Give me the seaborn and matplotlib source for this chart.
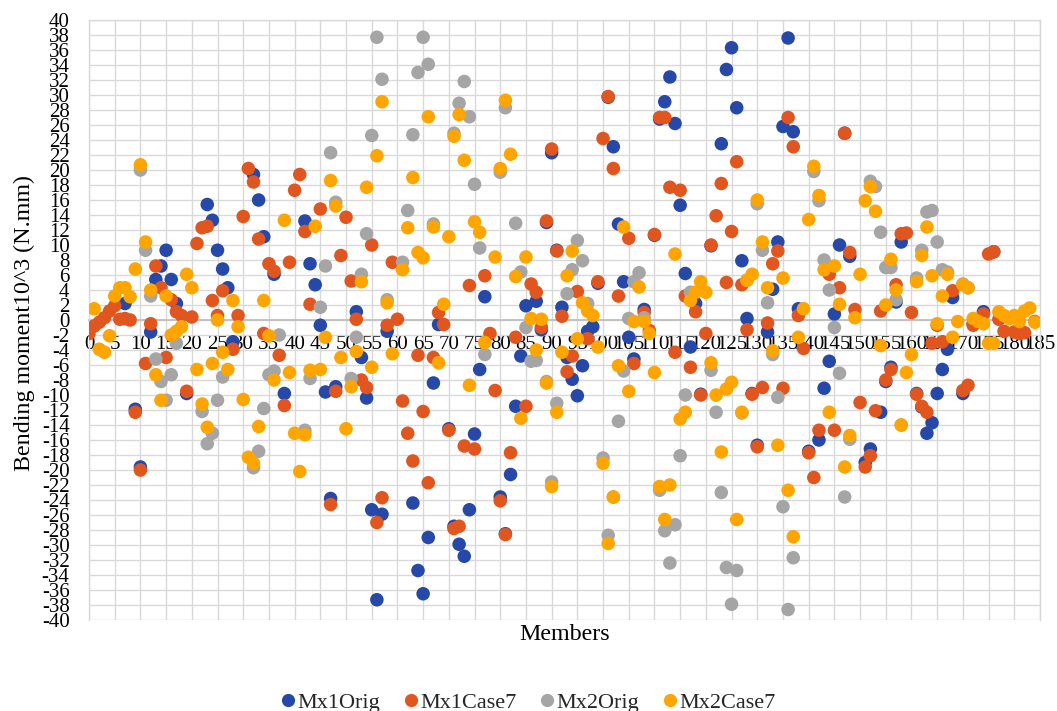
import matplotlib
matplotlib.use("Agg")
import matplotlib.pyplot as plt
from matplotlib.lines import Line2D
import seaborn as sns
import pandas as pd

sns.set_theme(style="white")
plt.rcParams['font.family'] = ['Liberation Serif', 'DejaVu Serif']
plt.rcParams['axes.unicode_minus'] = False

series_names = ["Mx1Orig", "Mx1Case7", "Mx2Orig", "Mx2Case7"]
series_colors = ["#2648A8", "#E1551E", "#A5A5A5", "#FFA500"]

x_ticks = list(range(0, 186, 5))
y_ticks = list(range(-40, 41, 2))

# (member, bending moment)
mx1_orig = [
    (7, 2.2), (9, -11.9), (10, -19.6), (12, -1.6), (13, 5.4), (14, 7.2), (15, 9.3), (16, 5.4), (17, 2.2), (19, -9.8),
    (23, 15.4), (24, 13.3), (25, 9.3), (26, 6.8), (27, 4.3), (28, -2.9), (32, 19.4), (33, 16), (34, 11.1), (36, 6.1),
    (38, -9.8), (42, 13.2), (43, 7.5), (44, 4.7), (45, -0.7), (46, -9.6), (47, -23.8), (48, -8.9), (52, 1.1), (53, -5),
    (54, -10.4), (55, -25.3), (56, -37.3), (57, -25.9), (58, -1.5), (63, -24.4), (64, -33.4), (65, -36.5), (66, -29), (67, -8.4),
    (68, -0.6), (70, -14.5), (71, -27.5), (72, -29.9), (73, -31.5), (74, -25.3), (75, -15.2), (76, -6.6), (77, 3.1), (80, -23.6),
    (81, -28.5), (82, -20.6), (83, -11.5), (84, -4.8), (85, 1.9), (87, 2.5), (88, -1.3), (89, 13), (90, 22.3), (91, 9.3),
    (92, 1.7), (93, -5), (94, -7.9), (95, -10.1), (96, -6.1), (97, -1.5), (98, -0.9), (99, 4.9), (101, 29.7), (102, 23.1),
    (103, 12.8), (104, 5.1), (105, -2.3), (106, -5.2), (108, 1.4), (110, 11.3), (111, 26.8), (112, 29.1), (113, 32.4), (114, 26.2),
    (115, 15.3), (116, 6.2), (117, -3.6), (118, 2.2), (119, -9.9), (121, 9.9), (123, 23.5), (124, 33.4), (125, 36.3), (126, 28.3),
    (127, 7.9), (128, 0.2), (129, -9.8), (130, -16.7), (132, -1.6), (133, 4.1), (134, 10.4), (135, 25.8), (136, 37.6), (137, 25.1),
    (138, 1.5), (140, -17.5), (142, -16), (143, -9.1), (144, -5.5), (145, 0.8), (146, 10), (147, 24.9), (148, 8.5), (151, -19.0),
    (152, -17.2), (154, -12.3), (155, -8.2), (156, -6.3), (157, 2.4), (158, 10.4), (161, -9.8), (162, -11.6), (163, -15.1), (164, -13.7),
    (165, -9.8), (166, -6.6), (167, -3.9), (168, 3), (170, -9.8), (172, -0.5), (174, 1.1), (176, 9.1),
]

mx1_case7 = [
    (0, -1.8), (1, -0.8), (2, -0.3), (3, 0.3), (4, 1.2), (5, 1.9), (6, 0.1), (7, 0.2), (8, 0), (9, -12.3),
    (10, -20), (11, -5.8), (12, -0.5), (13, 7.2), (14, 4.3), (15, -5), (16, 2.7), (17, 1.1), (18, 0.6), (19, -9.5),
    (20, 0.4), (21, 10.2), (22, 12.3), (23, 12.5), (24, 2.6), (25, 0.6), (26, 3.9), (28, -3.9), (29, 0.6), (30, 13.8),
    (31, 20.2), (32, 18.4), (33, 10.8), (34, -1.8), (35, 7.5), (36, 6.5), (37, -4.7), (38, -11.4), (39, 7.7), (40, 17.3),
    (41, 19.4), (42, 11.8), (43, 2.1), (45, 14.8), (47, -24.6), (48, -9.5), (49, 8.6), (50, 13.7), (51, 5.2), (52, 0.1),
    (53, -8), (54, -9), (55, 10), (56, -27), (57, -23.7), (58, -0.7), (59, 7.7), (60, 0.1), (61, -10.8), (62, -15.1),
    (63, -18.8), (64, -4.7), (65, -12.2), (66, -21.7), (67, -5), (68, 1), (69, -0.6), (70, -14.7), (71, -27.8), (72, -27.5),
    (73, -16.8), (74, 4.6), (75, -17.2), (77, 5.9), (78, -1.8), (79, -9.4), (80, -24.1), (81, -28.6), (82, -17.7), (83, -2.3),
    (85, -11.5), (86, 4.8), (87, 3.7), (88, -1), (89, 13.2), (90, 22.8), (91, 9.2), (92, 0.5), (93, -6.9), (94, -4.8),
    (95, 3.8), (97, -2.5), (99, 5.1), (100, 24.2), (101, 29.8), (102, 20.2), (103, 3.2), (105, 10.9), (106, -5.8), (108, 1),
    (109, -1.4), (110, 11.4), (111, 27), (112, 27), (113, 17.7), (114, -4.3), (115, 17.3), (116, 3.2), (117, -6.3), (118, 1.1),
    (119, -10), (120, -1.8), (121, 10), (122, 13.9), (123, 18.2), (124, 5), (125, 11.8), (126, 21.1), (127, 4.7), (128, -1.3),
    (129, -9.9), (130, -16.9), (131, -9), (132, -0.4), (133, 7.5), (134, 9.2), (135, -9.1), (136, 27), (137, 23.1), (138, 0.6),
    (139, -3.8), (140, -17.7), (141, -21), (142, -14.7), (144, 6.1), (145, -14.7), (146, 4.3), (147, 24.9), (148, 9), (149, 1.4),
    (150, -11), (151, -19.6), (152, -18.1), (153, -12.1), (154, 1.2), (155, -8), (156, -6.6), (157, 4.7), (158, 11.5), (159, 11.6),
    (160, 1), (161, -9.9), (162, -11.5), (163, -12.3), (164, -3.1), (165, -0.7), (166, -2.9), (168, 3.9), (170, -9.4), (171, -8.7),
    (172, -0.7), (174, 0.8), (175, 8.8), (176, 9.1), (177, 0.1), (178, -1.5), (180, -1.6), (181, -1.8), (182, -1.7), (184, -0.2),
]

mx2_orig = [
    (10, 20), (11, 9.3), (12, 3.2), (13, -5.2), (14, -8.2), (15, -10.7), (16, -7.3), (17, -3.1), (22, -12.2), (23, -16.5),
    (24, -15.1), (25, -10.7), (26, -7.6), (32, -19.7), (33, -17.5), (34, -11.8), (35, -7.3), (36, -6.8), (37, -2), (42, -14.7),
    (43, -7.8), (45, 1.7), (46, 7.2), (47, 22.3), (48, 15.7), (51, -7.8), (52, -2.3), (53, 6.1), (54, 11.5), (55, 24.6),
    (56, 37.7), (57, 32.1), (58, 2.7), (61, 7.7), (62, 14.6), (63, 24.7), (64, 33), (65, 37.7), (66, 34.1), (67, 12.8),
    (71, 24.9), (72, 28.9), (73, 31.8), (74, 27.1), (75, 18.1), (76, 9.6), (77, -4.6), (80, 19.7), (81, 28.3), (83, 12.9),
    (84, 6.4), (85, -1), (86, -5.5), (87, -5.4), (89, -8.2), (90, -21.6), (91, -11.1), (93, 3.5), (94, 6.7), (95, 10.6),
    (96, 7.9), (97, 2.2), (100, -18.4), (101, -28.7), (102, -23.6), (103, -13.5), (104, -6.8), (105, 0.2), (106, 5.1), (107, 6.3),
    (108, 0.3), (111, -22.7), (112, -28.1), (113, -32.4), (114, -27.3), (115, -18.1), (116, -10), (117, 3.7), (121, -6.7), (122, -12.3),
    (123, -23), (124, -33), (125, -37.9), (126, -33.4), (127, -12.4), (128, 5.3), (130, 15.5), (131, 9.3), (132, 2.3), (133, -4.6),
    (134, -10.3), (135, -24.9), (136, -38.6), (137, -31.7), (141, 19.8), (142, 15.9), (143, 8), (144, 4), (145, -1), (146, -7.1),
    (147, -23.6), (148, -15.9), (152, 18.5), (153, 17.8), (154, 11.7), (155, 7), (156, 7), (157, 2.7), (158, -14), (161, 5.6),
    (162, 9.3), (163, 14.4), (164, 14.6), (165, 10.4), (166, 6.7), (167, 6.4), (170, 4.8), (171, 4.3),
]

mx2_case7 = [
    (1, 1.5), (2, -3.9), (3, -4.3), (4, -2.1), (5, 3.2), (6, 4.3), (7, 4.3), (8, 3.1), (9, 6.8), (10, 20.7),
    (11, 10.4), (12, 4), (13, -7.3), (14, -10.7), (15, 3.2), (16, -2), (17, -1.5), (18, -0.9), (19, 6.1), (20, 4.3),
    (21, -6.6), (22, -11.2), (23, -14.3), (24, -5.8), (25, 0), (26, -4.3), (27, -6.6), (28, 2.6), (29, -0.9), (30, -10.6),
    (31, -18.3), (32, -19.1), (33, -14.2), (34, 2.6), (35, -2.1), (36, -8), (38, 13.3), (39, -7), (40, -15.1), (41, -20.2),
    (42, -15.3), (43, -6.7), (44, 12.5), (45, -6.6), (46, -2.3), (47, 18.6), (48, 15.2), (49, -5), (50, -14.5), (51, -8.9),
    (52, -4.2), (53, 5.1), (54, 17.7), (55, -6.3), (56, 21.9), (57, 29.1), (58, 2.3), (59, -4.5), (61, 6.7), (62, 12.3),
    (63, 19), (64, 9), (65, 8.3), (66, 27.1), (67, 12.4), (68, -5.7), (69, 2.1), (70, 11.1), (71, 24.5), (72, 27.4),
    (73, 21.3), (74, -8.7), (75, 13.1), (76, 11.7), (77, -3), (79, 8.4), (80, 20.2), (81, 29.3), (82, 22.1), (83, 5.8),
    (84, -13.1), (85, 8.4), (86, 0.2), (87, -4), (88, 0.1), (89, -8.4), (90, -22.2), (91, -12.3), (92, -4.3), (93, 5.9),
    (94, 9.2), (95, -2.5), (96, 2.3), (97, 1.2), (98, 0.6), (99, -3.6), (100, -19.1), (101, -29.8), (102, -23.6), (103, -6.1),
    (104, 12.4), (105, -9.5), (106, -0.2), (107, 4.4), (108, -0.2), (109, -1.8), (110, -7), (111, -22.2), (112, -26.6), (113, -22),
    (114, 8.8), (115, -13.2), (116, -12.3), (117, 2.6), (118, 3.7), (119, 5.1), (120, 3.7), (121, -5.7), (122, -10), (123, -17.6),
    (124, -9.2), (125, -8.3), (126, -26.6), (127, -12.3), (128, 5.3), (129, 6.1), (130, 16), (131, 10.4), (132, 4.3), (133, -4.1),
    (134, -16.7), (135, 5.6), (136, -22.7), (137, -28.9), (138, -2.3), (139, 1.5), (140, 13.4), (141, 20.5), (142, 16.6), (143, 6.7),
    (144, -12.3), (145, 7.2), (146, 2.1), (147, -19.6), (148, -15.4), (149, 0.3), (150, 6.1), (151, 15.9), (152, 17.8), (153, 14.5),
    (154, -3.4), (155, 2), (156, 8.1), (157, 4), (158, -14), (159, -7), (160, -4.6), (161, 5.1), (162, 8.6), (163, 12.4),
    (164, 5.9), (165, -0.5), (166, 3.2), (167, 6.1), (168, -2.3), (169, -0.2), (170, 4.7), (171, 4.3), (172, 0.2), (173, -0.2),
    (174, -0.5), (175, -3.1), (176, -3.1), (177, 1.1), (178, 0.6), (179, 0.2), (180, 0.6), (181, -0.2), (182, 1.2), (183, 1.6),
    (184, -0.3),
]

frames = []
for name, pts in zip(series_names, [mx1_orig, mx1_case7, mx2_orig, mx2_case7]):
    frames.append(pd.DataFrame({"Member": [p[0] for p in pts],
                                "Moment": [p[1] for p in pts],
                                "Series": name}))
df = pd.concat(frames, ignore_index=True)

W, H = 1057, 711
fig = plt.figure(figsize=(W / 100, H / 100), dpi=100)
fig.patch.set_facecolor("white")
ax = fig.add_axes([89 / W, 1 - 620 / H, 951 / W, 600 / H])
ax.set_facecolor("white")

sns.scatterplot(data=df, x="Member", y="Moment", hue="Series",
                hue_order=series_names, palette=series_colors,
                s=95, linewidth=0, alpha=1, legend=False, ax=ax, zorder=3)

ax.set_xlim(0, 185)
ax.set_ylim(-40, 40)
ax.set_xticks(x_ticks)
ax.set_yticks(y_ticks)
ax.set_xticklabels([str(t) for t in x_ticks])
ax.set_yticklabels([str(t) for t in y_ticks])
ax.grid(True, color="#D9D9D9", linewidth=1.0, zorder=0)
ax.set_axisbelow(True)

for side in ["top", "right", "left"]:
    ax.spines[side].set_color("#D9D9D9")
    ax.spines[side].set_linewidth(1.0)
ax.spines["bottom"].set_position(("data", 0))
ax.spines["bottom"].set_color("#BFBFBF")
ax.spines["bottom"].set_linewidth(1.3)
ax.spines["bottom"].set_zorder(1)

ax.tick_params(axis="x", length=0, labelsize=15, pad=10.5, colors="black")
ax.tick_params(axis="y", length=0, labelsize=15, pad=14, colors="black")

ax.set_xlabel("Members", fontsize=17.3, color="black")
ax.xaxis.set_label_coords(0.5, -0.006)
ax.set_ylabel("Bending moment10^3 (N.mm)", fontsize=17.3, color="black")
ax.yaxis.set_label_coords(-0.057, 0.495)

handles = [Line2D([0], [0], marker="o", linestyle="none", markersize=9.5,
                  markerfacecolor=c, markeredgewidth=0) for c in series_colors]
fig.legend(handles, series_names, loc="center", bbox_to_anchor=(0.5, 1 - 703 / H),
           ncol=4, frameon=False, fontsize=16, handlelength=0.6,
           handletextpad=0.15, columnspacing=1.05, borderaxespad=0)

fig.savefig("out.png", dpi=100, facecolor="white")
